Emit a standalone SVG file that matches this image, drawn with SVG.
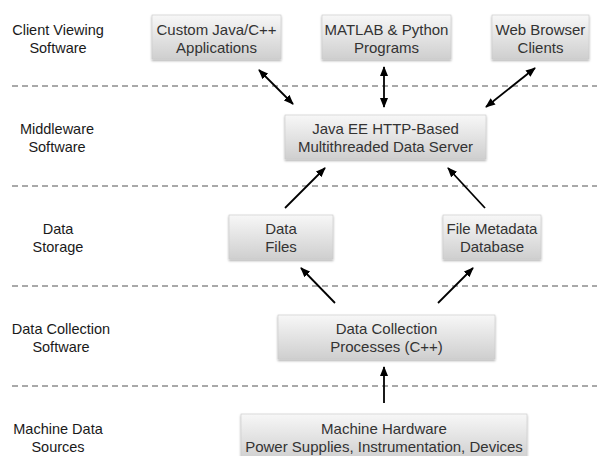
<svg xmlns="http://www.w3.org/2000/svg" width="597" height="456" viewBox="0 0 597 456">
<style>
.lbl{font-family:"Liberation Sans",Arial,sans-serif;font-size:14.5px;fill:#1a1a1a;text-anchor:middle}
.bt{font-family:"Liberation Sans",Arial,sans-serif;font-size:15px;fill:#333;text-anchor:middle}
.box{fill:url(#g);stroke:#c8c8c8;stroke-width:0.6;filter:url(#sh)}
.dash{stroke:#555;stroke-width:1.2;stroke-dasharray:6 4;fill:none}
.ar{stroke:#000;stroke-width:1.8;fill:none;marker-end:url(#ah)}
.ar2{stroke:#000;stroke-width:1.8;fill:none;marker-end:url(#ah);marker-start:url(#ah)}
</style>
<defs>
<linearGradient id="g" x1="0" y1="0" x2="0" y2="1">
<stop offset="0" stop-color="#f7f7f7"/>
<stop offset="1" stop-color="#cfcfcf"/>
</linearGradient>
<filter id="sh" x="-5%" y="-10%" width="110%" height="130%">
<feDropShadow dx="0" dy="1.5" stdDeviation="1" flood-color="#000" flood-opacity="0.35"/>
</filter>
<marker id="ah" viewBox="0 0 10 8" refX="9" refY="4" markerWidth="10" markerHeight="8" markerUnits="userSpaceOnUse" orient="auto-start-reverse">
<path d="M0,0 L10,4 L0,8 z" fill="#000"/>
</marker>
</defs>
<rect width="597" height="456" fill="#fff"/>

<g id="separators">
<line class="dash" x1="12" y1="86" x2="597" y2="86"/>
<line class="dash" x1="12" y1="186" x2="597" y2="186"/>
<line class="dash" x1="12" y1="286" x2="597" y2="286"/>
<line class="dash" x1="12" y1="386" x2="597" y2="386"/>
</g>

<g id="tier-labels">
<text class="lbl" x="58" y="35">Client Viewing</text>
<text class="lbl" x="58" y="53">Software</text>
<text class="lbl" x="57" y="134">Middleware</text>
<text class="lbl" x="57" y="152">Software</text>
<text class="lbl" x="58" y="234">Data</text>
<text class="lbl" x="58" y="252">Storage</text>
<text class="lbl" x="61" y="334">Data Collection</text>
<text class="lbl" x="61" y="352">Software</text>
<text class="lbl" x="58" y="434">Machine Data</text>
<text class="lbl" x="58" y="452">Sources</text>
</g>

<g id="custom-apps">
<rect class="box" x="152" y="15" width="129" height="44"/>
<text class="bt" x="216.5" y="35">Custom Java/C++</text>
<text class="bt" x="216.5" y="53">Applications</text>
</g>
<g id="matlab-python">
<rect class="box" x="322" y="15" width="129" height="44"/>
<text class="bt" x="386.5" y="35">MATLAB &amp; Python</text>
<text class="bt" x="386.5" y="53">Programs</text>
</g>
<g id="web-browser">
<rect class="box" x="492" y="15" width="97" height="44"/>
<text class="bt" x="540.5" y="35">Web Browser</text>
<text class="bt" x="540.5" y="53">Clients</text>
</g>
<g id="data-server">
<rect class="box" x="285" y="115" width="201" height="44"/>
<text class="bt" x="385.5" y="134">Java EE HTTP-Based</text>
<text class="bt" x="385.5" y="152">Multithreaded Data Server</text>
</g>
<g id="data-files">
<rect class="box" x="229" y="215" width="104" height="44"/>
<text class="bt" x="281" y="234">Data</text>
<text class="bt" x="281" y="252">Files</text>
</g>
<g id="file-metadata">
<rect class="box" x="443" y="215" width="98" height="44"/>
<text class="bt" x="492" y="234">File Metadata</text>
<text class="bt" x="492" y="252">Database</text>
</g>
<g id="data-collection">
<rect class="box" x="278" y="315" width="217" height="44"/>
<text class="bt" x="386.5" y="334">Data Collection</text>
<text class="bt" x="386.5" y="352">Processes (C++)</text>
</g>
<g id="machine-hardware">
<rect class="box" x="241" y="414" width="286" height="46"/>
<text class="bt" x="384" y="434">Machine Hardware</text>
<text class="bt" x="384" y="452">Power Supplies, Instrumentation, Devices</text>
</g>

<g id="connectors">
<line class="ar2" x1="259" y1="70" x2="293" y2="104"/>
<line class="ar2" x1="384" y1="67" x2="384" y2="107"/>
<line class="ar2" x1="535" y1="68" x2="486" y2="107"/>
<line class="ar" x1="285" y1="208" x2="325" y2="168"/>
<line class="ar" x1="485" y1="208" x2="448" y2="168"/>
<line class="ar" x1="335" y1="303" x2="301" y2="268"/>
<line class="ar" x1="438" y1="303" x2="473" y2="268"/>
<line class="ar" x1="384" y1="403" x2="384" y2="367"/>
</g>
</svg>
